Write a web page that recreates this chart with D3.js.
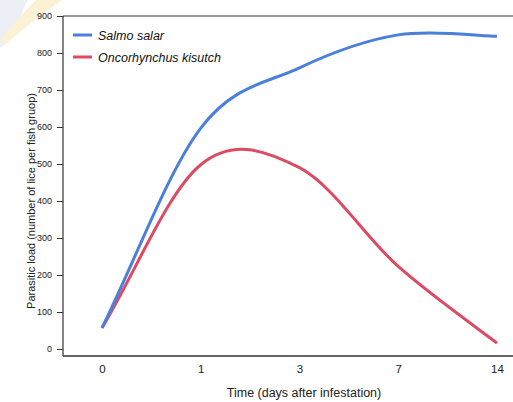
<!DOCTYPE html>
<html>
<head>
<meta charset="utf-8">
<script src="https://cdn.jsdelivr.net/npm/d3@7"></script>
<style>
  body { margin: 0; background: #fff; }
  svg { display: block; font-family: "Liberation Sans", Arial, sans-serif; }
</style>
</head>
<body>
<div id="chart"></div>
<script>
'use strict';

// sampling days (evenly spaced on the axis) and the lice counts per fish group
var days = ["0", "1", "3", "7", "14"];
var salarLoad = [57, 597, 760, 849, 845];
var kisutchLoad = [57, 498, 490, 223, 16];
var yTicks = [0, 100, 200, 300, 400, 500, 600, 700, 800, 900];
var seriesNames = ["Salmo salar", "Oncorhynchus kisutch"];
var seriesColors = ["#4a80dc", "#dc4b62"];

var chartWidth = 513, chartHeight = 402;
var plotLeft = 63, plotTop = 16, plotBottom = 356;

var svg = d3.select("#chart").append("svg")
    .attr("width", chartWidth)
    .attr("height", chartHeight);

// faint logo watermark in the corner
var wm = svg.append("g").attr("opacity", 0.35);
wm.append("path")
    .attr("d", "M0,0 L28,0 Q18,14 22,30 L0,48 Z")
    .attr("fill", "#c9d3e6");
wm.append("path")
    .attr("d", "M36,0 L62,0 Q30,22 6,44 L0,40 Q18,18 36,0 Z")
    .attr("fill", "#f6d98a");

var x = d3.scalePoint()
    .domain(days)
    .range([102, 497]);

var y = d3.scaleLinear()
    .domain([0, 900])
    .range([349, plotTop]);

// frame: top and bottom lines run to the right edge
svg.append("line")
    .attr("x1", plotLeft).attr("x2", chartWidth)
    .attr("y1", plotTop).attr("y2", plotTop)
    .attr("stroke", "#777").attr("stroke-width", 1.5);
svg.append("line")
    .attr("x1", plotLeft).attr("x2", chartWidth)
    .attr("y1", plotBottom).attr("y2", plotBottom)
    .attr("stroke", "#333").attr("stroke-width", 1.5);

// y axis
var yAxis = svg.append("g")
    .attr("transform", "translate(" + plotLeft + ",0)")
    .call(d3.axisLeft(y).tickValues(yTicks).tickSize(6).tickPadding(5).tickSizeOuter(0));
yAxis.select(".domain").remove();
yAxis.append("line")
    .attr("x1", 0).attr("x2", 0)
    .attr("y1", plotTop).attr("y2", plotBottom)
    .attr("stroke", "#333").attr("stroke-width", 1.2);
yAxis.selectAll(".tick line").attr("stroke", "#333");
yAxis.selectAll(".tick text")
    .attr("fill", "#222")
    .style("font-size", "9px")
    .style("font-family", "Liberation Sans, Arial, sans-serif");

// x axis labels only, no tick marks
var xAxis = svg.append("g")
    .attr("transform", "translate(0," + plotBottom + ")")
    .call(d3.axisBottom(x).tickSize(0).tickPadding(9));
xAxis.select(".domain").remove();
xAxis.selectAll(".tick text")
    .attr("fill", "#222")
    .style("font-size", "11.5px")
    .style("font-family", "Liberation Sans, Arial, sans-serif");

// axis titles
svg.append("text")
    .attr("x", 304).attr("y", 397)
    .attr("text-anchor", "middle")
    .attr("fill", "#222")
    .style("font-size", "12.5px")
    .text("Time (days after infestation)");
svg.append("text")
    .attr("transform", "translate(35,201) rotate(-90)")
    .attr("text-anchor", "middle")
    .attr("fill", "#222")
    .style("font-size", "11px")
    .text("Parasitic load (number of lice per fish gruop)");

// spreadsheet-style smoothed line through the points
function smoothPath(pts) {
    var n = pts.length;
    function tangent(i) {
        if (i === 0) return [pts[1][0] - pts[0][0], pts[1][1] - pts[0][1]];
        if (i === n - 1) return [(pts[n - 1][0] - pts[n - 2][0]) / 2, (pts[n - 1][1] - pts[n - 2][1]) / 2];
        return [(pts[i + 1][0] - pts[i - 1][0]) / 2, (pts[i + 1][1] - pts[i - 1][1]) / 2];
    }
    var p = d3.path();
    p.moveTo(pts[0][0], pts[0][1]);
    for (var i = 0; i < n - 1; i++) {
        var t0 = tangent(i), t1 = tangent(i + 1);
        p.bezierCurveTo(pts[i][0] + t0[0] / 3, pts[i][1] + t0[1] / 3,
            pts[i + 1][0] - t1[0] / 3, pts[i + 1][1] - t1[1] / 3,
            pts[i + 1][0], pts[i + 1][1]);
    }
    return p.toString();
}

var allLoads = [salarLoad, kisutchLoad];
// draw red first so blue sits on top where they meet at day 0
for (var i = allLoads.length - 1; i >= 0; i--) {
    var pts = days.map(function(d, k) { return [x(d), y(allLoads[i][k])]; });
    svg.append("path")
        .attr("d", smoothPath(pts))
        .attr("fill", "none")
        .attr("stroke", seriesColors[i])
        .attr("stroke-width", 3);
}

// legend
for (var j = 0; j < seriesNames.length; j++) {
    var ly = 35 + j * 22;
    svg.append("line")
        .attr("x1", 73).attr("x2", 92)
        .attr("y1", ly).attr("y2", ly)
        .attr("stroke", seriesColors[j]).attr("stroke-width", 3);
    svg.append("text")
        .attr("x", 98).attr("y", ly + 4.5)
        .attr("fill", "#111")
        .style("font-size", "12.5px")
        .style("font-style", "italic")
        .text(seriesNames[j]);
}
</script>
</body>
</html>
